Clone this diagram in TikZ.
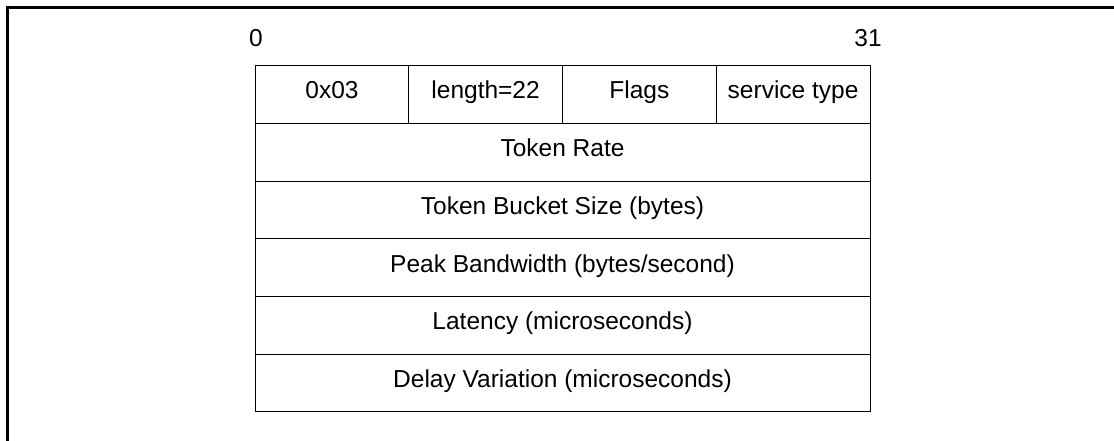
\documentclass[tikz,border=0pt]{standalone}
\usepackage{fontspec}
\setmainfont{Liberation Sans}
\begin{document}
\begin{tikzpicture}[x=1pt,y=-1pt,
  cell/.style={draw=none,inner sep=0pt,text height=17.5pt,text depth=5pt,font=\fontsize{24.5}{28}\selectfont},
  grid/.style={line width=1pt,draw=black},
  frame/.style={line width=3pt,draw=black}]
\useasboundingbox (0,0) rectangle (1114,440);
% outer frame (cut at right and bottom)
\draw[frame] (7,445) -- (7,7) -- (1120,7);
% table
\coordinate (tl) at (255,65);
\coordinate (br) at (870,411);
\draw[grid] (tl) rectangle (br);
\foreach \y in {123,181,238,296,354} \draw[grid] (255,\y) -- (870,\y);
\foreach \x in {408.75,562.5,716.25} \draw[grid] (\x,65) -- (\x,123);
% bit labels
\node[cell] (b0) at (256,40) {0};
\node[cell] (b31) at (868,40) {31};
% first row
\node[cell] (f1) at (332,92) {0x03};
\node[cell] (f2) at (485.6,92) {length=22};
\node[cell] (f3) at (639.4,92) {Flags};
\node[cell] (f4) at (793.1,92) {service type};
% rows
\node[cell] (r1) at (562.5,150) {Token Rate};
\node[cell] (r2) at (562.5,208) {Token Bucket Size (bytes)};
\node[cell] (r3) at (562.5,266) {Peak Bandwidth (bytes/second)};
\node[cell] (r4) at (562.5,323.5) {Latency (microseconds)};
\node[cell] (r5) at (562.5,381) {Delay Variation (microseconds)};
\end{tikzpicture}
\end{document}
